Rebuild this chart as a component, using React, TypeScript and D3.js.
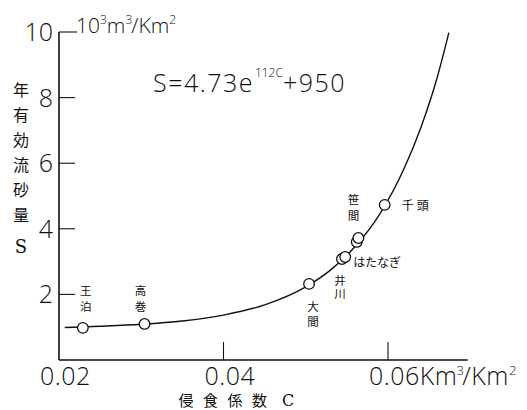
import { useEffect, useRef } from "react";
import * as d3 from "d3";

// erosion coefficient C (km3/km2) vs annual effective sediment S (10^3 m3/km2)
const yTicks = [2, 4, 6, 8, 10];
const xTicks = [0.02, 0.04, 0.06];
const xTickLabels = ["0.02", "0.04", "0.06"];

// fitted curve S = 4.73e^112C + 950
const curveC = [0.0207, 0.025, 0.03, 0.035, 0.04, 0.045, 0.05, 0.053, 0.056, 0.059, 0.062, 0.064, 0.066, 0.0674];
const curveS = [0.99, 1.03, 1.09, 1.19, 1.37, 1.68, 2.23, 2.74, 3.46, 4.45, 5.86, 7.09, 8.63, 9.98];

// observed dams
const stationNames = ["王泊", "高巻", "大間", "井川", "はたなぎ", "笹間", "笹間", "千頭"];
const stationC = [0.0229, 0.0304, 0.0504, 0.0544, 0.0548, 0.0562, 0.0564, 0.0596];
const stationS = [0.98, 1.1, 2.32, 3.08, 3.14, 3.6, 3.72, 4.73];

// label placement relative to the point (px), vertical = stacked characters
const labelLayout = [
  { dx: 3, dy: -37, vertical: true, gap: 16 },
  { dx: -4, dy: -33, vertical: true, gap: 16 },
  { dx: 4, dy: 23, vertical: true, gap: 15 },
  { dx: -2, dy: 22, vertical: true, gap: 13 },
  { dx: 8, dy: 5, vertical: false, gap: 0 },
  null,
  { dx: -5, dy: -38, vertical: true, gap: 16 },
  { dx: 17, dy: 1, vertical: false, gap: 0 },
];

const numFont = "'Open Sans', 'DejaVu Sans', sans-serif";
const cjkFont = "'Noto Sans CJK JP', sans-serif";
const ink = "#111";

export default function App() {
  const svgRef = useRef(null);

  useEffect(() => {
    const svg = d3.select(svgRef.current);
    svg.selectAll("*").remove();

    const x = d3.scaleLinear().domain([0.02, 0.06]).range([59, 388]);
    const y = d3.scaleLinear().domain([0, 10]).range([360, 32]);
    const xEnd = x(0.0697);

    const g = svg.append("g").attr("fill", ink);

    // axes
    g.append("line")
      .attr("x1", x(0.02)).attr("x2", x(0.02))
      .attr("y1", y(10)).attr("y2", y(0))
      .attr("stroke", ink).attr("stroke-width", 1.6);
    g.append("line")
      .attr("x1", x(0.02)).attr("x2", xEnd)
      .attr("y1", y(0)).attr("y2", y(0))
      .attr("stroke", ink).attr("stroke-width", 1.6);

    // y ticks point inward
    yTicks.forEach((t) => {
      g.append("line")
        .attr("x1", x(0.02)).attr("x2", x(0.02) + (t === 10 ? 18 : 16))
        .attr("y1", y(t)).attr("y2", y(t))
        .attr("stroke", ink).attr("stroke-width", 1.1);
      g.append("text")
        .attr("x", 53).attr("y", y(t)).attr("dy", "0.36em")
        .attr("text-anchor", "end")
        .attr("font-family", numFont).attr("font-weight", 300)
        .attr("font-size", 25)
        .text(t);
    });

    // x ticks point upward
    xTicks.forEach((t, i) => {
      if (i > 0) {
        g.append("line")
          .attr("x1", x(t)).attr("x2", x(t))
          .attr("y1", y(0)).attr("y2", y(0) - 18)
          .attr("stroke", ink).attr("stroke-width", 1.1);
      }
      const txt = g.append("text")
        .attr("x", x(t) - 19).attr("y", 385)
        .attr("font-family", numFont).attr("font-weight", 300)
        .attr("font-size", 25)
        .attr("letter-spacing", 0.5)
        .text(xTickLabels[i]);
      if (i === xTicks.length - 1) {
        txt.append("tspan").text("Km");
        txt.append("tspan").attr("font-size", 13).attr("dy", -10).attr("dx", -1).text("3");
        txt.append("tspan").attr("dy", 10).attr("dx", -2).text("/Km");
        txt.append("tspan").attr("font-size", 13).attr("dy", -10).text("2");
      }
    });

    // y unit
    const unit = g.append("text")
      .attr("x", 76).attr("y", 33)
      .attr("font-family", numFont).attr("font-weight", 300)
      .attr("font-size", 21);
    unit.append("tspan").text("10");
    unit.append("tspan").attr("font-size", 12).attr("dy", -9).text("3");
    unit.append("tspan").attr("dy", 9).text("m");
    unit.append("tspan").attr("font-size", 12).attr("dy", -9).text("3");
    unit.append("tspan").attr("dy", 9).attr("dx", -1).text("/Km");
    unit.append("tspan").attr("font-size", 12).attr("dy", -9).text("2");

    // formula
    const f = g.append("text")
      .attr("x", 153).attr("y", 92)
      .attr("font-family", numFont).attr("font-weight", 300)
      .attr("font-size", 25)
      .attr("letter-spacing", 1.5);
    f.append("tspan").text("S=4.73e");
    f.append("tspan").attr("font-size", 12).attr("letter-spacing", 0).attr("dy", -15).attr("dx", 1).text("112C");
    f.append("tspan").attr("dy", 15).text("+950");

    // y title
    const titleChars = ["年", "有", "効", "流", "砂", "量"];
    titleChars.forEach((ch, i) => {
      g.append("text")
        .attr("x", 21).attr("y", 90 + i * 25).attr("dy", "0.38em")
        .attr("text-anchor", "middle")
        .attr("font-family", cjkFont).attr("font-size", 16)
        .text(ch);
    });
    g.append("text")
      .attr("x", 21).attr("y", 247).attr("dy", "0.36em")
      .attr("text-anchor", "middle")
      .attr("font-family", "'DejaVu Serif', serif").attr("font-size", 18)
      .text("S");

    // x title
    const xt = ["侵", "食", "係", "数"];
    xt.forEach((ch, i) => {
      g.append("text")
        .attr("x", 186 + i * 24.5).attr("y", 400).attr("dy", "0.38em")
        .attr("text-anchor", "middle")
        .attr("font-family", cjkFont).attr("font-size", 15)
        .text(ch);
    });
    g.append("text")
      .attr("x", 288).attr("y", 400).attr("dy", "0.36em")
      .attr("text-anchor", "middle")
      .attr("font-family", "'DejaVu Serif', serif").attr("font-size", 16)
      .text("C");

    // fitted curve
    const pts = curveC.map((c, i) => [c, curveS[i]]);
    const line = d3.line()
      .x((d) => x(d[0]))
      .y((d) => y(d[1]))
      .curve(d3.curveMonotoneX);
    g.append("path")
      .datum(pts)
      .attr("d", line)
      .attr("fill", "none")
      .attr("stroke", ink)
      .attr("stroke-width", 1.4);

    // stations
    stationC.forEach((c, i) => {
      g.append("circle")
        .attr("cx", x(c)).attr("cy", y(stationS[i]))
        .attr("r", 5.3)
        .attr("fill", "#fff")
        .attr("stroke", ink)
        .attr("stroke-width", 1.3);
    });

    stationNames.forEach((name, i) => {
      const lay = labelLayout[i];
      if (!lay) return;
      const px = x(stationC[i]) + lay.dx;
      const py = y(stationS[i]) + lay.dy;
      if (lay.vertical) {
        Array.from(name).forEach((ch, k) => {
          g.append("text")
            .attr("x", px).attr("y", py + k * lay.gap).attr("dy", "0.38em")
            .attr("text-anchor", "middle")
            .attr("font-family", cjkFont).attr("font-size", 11.5)
            .attr("fill", ink)
            .text(ch);
        });
      } else {
        g.append("text")
          .attr("x", px).attr("y", py).attr("dy", "0.38em")
          .attr("font-family", cjkFont).attr("font-size", 12)
          .attr("fill", ink)
          .attr("letter-spacing", name.length === 2 ? 3 : 0)
          .text(name);
      }
    });
  }, []);

  return (
    <div style={{ position: "absolute", left: 0, top: 0 }}>
      <svg ref={svgRef} width={527} height={410} style={{ display: "block", background: "#fff" }} />
    </div>
  );
}
